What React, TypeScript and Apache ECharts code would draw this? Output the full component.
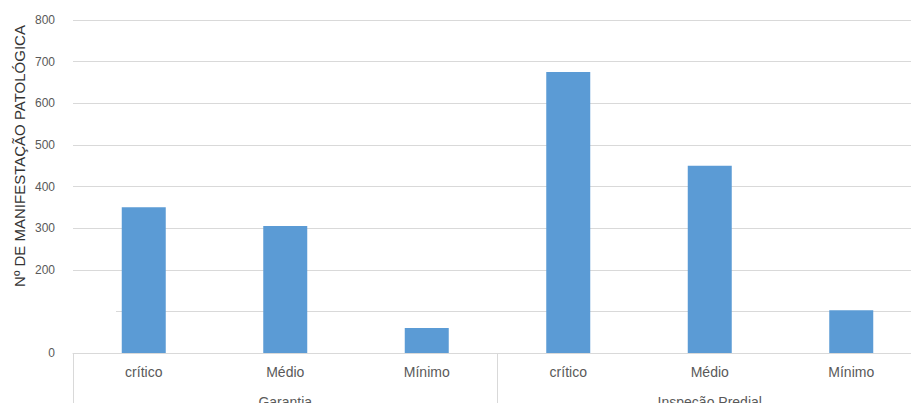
import React, { useEffect, useRef } from "react";
import * as echarts from "echarts";

const categories = ["crítico", "Médio", "Mínimo", "crítico", "Médio", "Mínimo"];
const groups = ["Garantia", "Inspeção Predial"];
const values = [350, 305, 60, 675, 450, 103];
const yAxisTitle = "Nº DE MANIFESTAÇÃO PATOLÓGICA";
const hiddenTickLabels = [100];

export default function App() {
  const ref = useRef<HTMLDivElement>(null);
  useEffect(() => {
    if (!ref.current) return;
    const chart = echarts.init(ref.current, null, { renderer: "svg" });
    const font = "'Liberation Sans', Arial, sans-serif";
    chart.setOption({
      animation: false,
      backgroundColor: "#ffffff",
      grid: {
        left: 73,
        top: 20,
        bottom: 50,
        right: -11,
        containLabel: false,
        outerBoundsMode: "none",
      },
      xAxis: [
        {
          type: "category",
          data: categories,
          position: "bottom",
          axisLine: { show: true, lineStyle: { color: "#d9d9d9", width: 1 } },
          axisTick: { show: false },
          axisLabel: { color: "#595959", fontSize: 14, fontFamily: font, margin: 12, interval: 0 },
          splitLine: { show: false },
        },
        {
          type: "category",
          data: groups,
          position: "bottom",
          offset: 0,
          axisLine: { show: false },
          axisTick: { show: true, length: 60, lineStyle: { color: "#d9d9d9", width: 1 } },
          axisLabel: { color: "#595959", fontSize: 14, fontFamily: font, margin: 42, interval: 0 },
          splitLine: { show: false },
        },
      ],
      yAxis: {
        type: "value",
        min: 0,
        max: 800,
        interval: 100,
        axisLine: { show: false },
        axisTick: { show: false },
        axisLabel: {
          color: "#595959",
          fontSize: 12,
          fontFamily: font,
          margin: 18,
          formatter: (v: number) => (hiddenTickLabels.includes(v) ? "" : String(v)),
        },
        splitLine: { show: true, lineStyle: { color: "#d9d9d9", width: 1 } },
      },
      series: [
        {
          type: "bar",
          xAxisIndex: 0,
          data: values,
          barWidth: 44,
          itemStyle: { color: "#5b9bd5" },
        },
      ],
      graphic: [
        {
          type: "rect",
          z: 100,
          shape: { x: 68, y: 309, width: 48, height: 6 },
          style: { fill: "#ffffff" },
        },
        {
          type: "text",
          z: 101,
          x: 19,
          y: 156,
          rotation: Math.PI / 2,
          style: {
            text: yAxisTitle,
            fill: "#333333",
            fontSize: 15,
            fontFamily: font,
            align: "center",
            verticalAlign: "middle",
          },
        },
      ],
    });
    return () => chart.dispose();
  }, []);
  return (
    <div
      ref={ref}
      style={{ position: "fixed", left: 0, top: 0, width: 911, height: 403 }}
    />
  );
}
